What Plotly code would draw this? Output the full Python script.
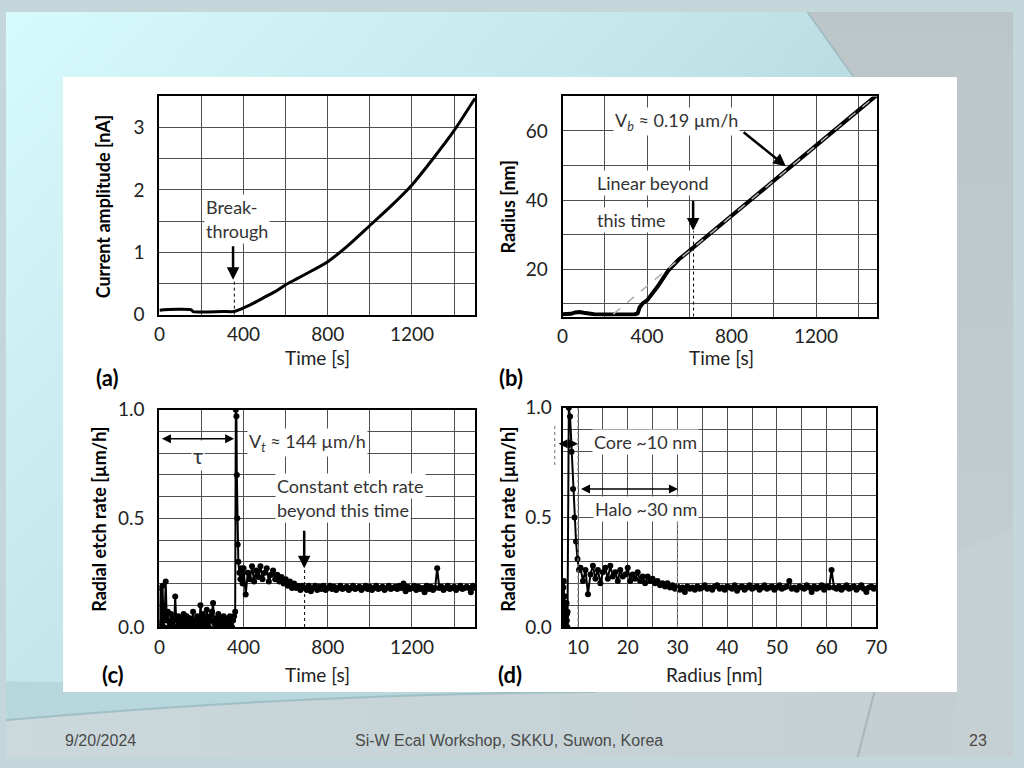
import base64
import plotly.graph_objects as go

# ---------------- data ----------------
a_time = [0, 20, 150, 160, 300, 355, 380, 400, 450, 500, 550, 600, 650, 700,
          800, 900, 1000, 1100, 1200, 1300, 1400, 1500]
a_current = [0.07, 0.08, 0.08, 0.05, 0.05, 0.05, 0.08, 0.11, 0.19, 0.28, 0.37,
             0.48, 0.57, 0.66, 0.85, 1.12, 1.43, 1.74, 2.08, 2.5, 2.95, 3.47]

b_time = [0, 20, 40, 60, 80, 100, 120, 150, 200, 250, 300, 340, 355, 365, 380,
          400, 450, 500, 550, 600, 625, 700, 800, 900, 1000, 1100, 1200, 1300,
          1400, 1490]
b_radius = [7.0, 7.0, 7.1, 7.5, 7.6, 7.4, 7.2, 7.0, 6.9, 6.9, 6.9, 6.9, 7.2,
            9.0, 10.2, 11.0, 15.0, 19.6, 22.8, 25.3, 26.5, 30.4, 35.4, 40.5,
            45.6, 50.7, 55.8, 60.9, 66.0, 70.5]
b_fit_time = [240, 1490]
b_fit_radius = [7.0, 70.5]

c_time = [0, 5, 10, 15, 20, 25, 30, 35, 40, 45, 50, 55, 60, 65, 70, 75, 80, 85,
          90, 95, 100, 105, 110, 115, 120, 125, 130, 135, 140, 145, 150, 155,
          160, 165, 170, 175, 180, 185, 190, 195, 200, 205, 210, 215, 220, 225,
          230, 235, 240, 245, 250, 255, 260, 265, 270, 275, 280, 285, 290, 295,
          300, 305, 310, 315, 320, 325, 330, 335, 340, 345, 350, 355, 360,
          363, 366, 368, 370, 372, 375, 380, 385, 390, 395,
          400, 410, 420, 430, 440, 450, 460, 470, 480, 490,
          500, 510, 520, 530, 540, 550, 560, 570, 580, 590,
          600, 610, 620, 630, 640, 650, 660, 670, 680, 690,
          700, 710, 720, 730, 740, 750, 760, 770, 780, 790,
          800, 810, 820, 830, 840, 850, 860, 870, 880, 890,
          900, 910, 920, 930, 940, 950, 960, 970, 980, 990,
          1000, 1010, 1020, 1030, 1040, 1050, 1060, 1070, 1080, 1090,
          1100, 1110, 1120, 1130, 1140, 1150, 1160, 1170, 1180, 1190,
          1200, 1210, 1220, 1230, 1240, 1250, 1260, 1270, 1280, 1290,
          1300, 1310, 1320, 1330, 1340, 1350, 1360, 1370, 1380, 1390,
          1400, 1410, 1420, 1430, 1440, 1450, 1460, 1470, 1480, 1490, 1500]
c_rate = [0.0, 0.18, 0.02, 0.19, 0.0, 0.05, 0.21, 0.03, 0.07, 0.0,
          0.02, 0.06, 0.01, 0.04, 0.0, 0.14, 0.03, 0.0, 0.05, 0.02,
          0.0, 0.04, 0.01, 0.06, 0.0, 0.03, 0.05, 0.01, 0.0, 0.04,
          0.02, 0.0, 0.07, 0.01, 0.03, 0.0, 0.05, 0.02, 0.0, 0.1,
          0.03, 0.06, 0.01, 0.0, 0.04, 0.08, 0.02, 0.0, 0.05, 0.03,
          0.07, 0.11, 0.02, 0.0, 0.04, 0.01, 0.06, 0.03, 0.0, 0.04,
          0.02, 0.05, 0.01, 0.0, 0.03, 0.04, 0.01, 0.05, 0.02, 0.0,
          0.03, 0.05, 0.07,
          1.0, 0.97, 0.7, 0.5, 0.38, 0.3, 0.25, 0.22, 0.27, 0.2,
          0.27, 0.15, 0.25, 0.22, 0.28, 0.21, 0.26, 0.23, 0.28, 0.22,
          0.25, 0.27, 0.21, 0.24, 0.26, 0.22, 0.24, 0.21, 0.23, 0.20,
          0.22, 0.19, 0.21, 0.18, 0.20, 0.18, 0.19, 0.17, 0.19, 0.18,
          0.17, 0.19, 0.165, 0.18, 0.19, 0.17, 0.185, 0.175, 0.19, 0.17,
          0.18, 0.19, 0.175, 0.185, 0.17, 0.18, 0.19, 0.175, 0.18, 0.185,
          0.17, 0.18, 0.19, 0.175, 0.18, 0.185, 0.17, 0.18, 0.19, 0.175,
          0.185, 0.17, 0.18, 0.19, 0.175, 0.18, 0.185, 0.17, 0.18, 0.19,
          0.175, 0.18, 0.185, 0.175, 0.19, 0.18, 0.20, 0.165, 0.185, 0.175,
          0.18, 0.19, 0.17, 0.185, 0.175, 0.18, 0.16, 0.19, 0.175, 0.185,
          0.17, 0.18, 0.27, 0.18, 0.185, 0.17, 0.18, 0.19, 0.175, 0.18,
          0.185, 0.17, 0.18, 0.19, 0.175, 0.18, 0.185, 0.18, 0.16, 0.19, 0.18]

d_radius = [7.0, 7.05, 7.1, 7.15, 7.2, 7.25, 7.3, 7.35, 7.4, 7.45, 7.5, 7.55,
            7.6, 7.65, 7.7, 7.75, 7.8, 7.85, 7.9,
            8.15, 8.4, 8.7, 9.0, 9.3, 9.6, 9.9, 10.2,
            10.5, 11.0, 11.5, 12.0, 12.5, 13.0, 13.5, 14.0, 14.5, 15.0,
            15.5, 16.0, 16.5, 17.0, 17.5, 18.0, 18.5, 19.0, 19.5, 20.0,
            20.5, 21.0, 21.5, 22.0, 22.5, 23.0, 23.5, 24.0, 24.5, 25.0,
            25.5, 26.0, 26.5, 27.0, 27.5, 28.0, 28.5, 29.0, 29.5, 30.0,
            30.5, 31.0, 31.5, 32.0, 32.5, 33.0, 33.5, 34.0, 34.5, 35.0,
            35.5, 36.0, 36.5, 37.0, 37.5, 38.0, 38.5, 39.0, 39.5, 40.0,
            40.5, 41.0, 41.5, 42.0, 42.5, 43.0, 43.5, 44.0, 44.5, 45.0,
            45.5, 46.0, 46.5, 47.0, 47.5, 48.0, 48.5, 49.0, 49.5, 50.0,
            50.5, 51.0, 51.5, 52.0, 52.5, 53.0, 53.5, 54.0, 54.5, 55.0,
            55.5, 56.0, 56.5, 57.0, 57.5, 58.0, 58.5, 59.0, 59.5, 60.0,
            60.5, 61.0, 61.5, 62.0, 62.5, 63.0, 63.5, 64.0, 64.5, 65.0,
            65.5, 66.0, 66.5, 67.0, 67.5, 68.0, 68.5, 69.0, 69.5, 70.0]
d_rate = [0.0, 0.18, 0.02, 0.21, 0.05, 0.0, 0.14, 0.03, 0.07, 0.0, 0.1, 0.02,
          0.05, 0.0, 0.11, 0.03, 0.06, 0.0, 0.07,
          1.0, 0.96, 0.8, 0.63, 0.5, 0.39, 0.31, 0.26,
          0.27, 0.21, 0.26, 0.15, 0.24, 0.28, 0.22, 0.26, 0.20, 0.25,
          0.27, 0.22, 0.28, 0.23, 0.25, 0.21, 0.26, 0.23, 0.24, 0.27,
          0.21, 0.24, 0.22, 0.25, 0.21, 0.23, 0.20, 0.23, 0.21, 0.22,
          0.20, 0.21, 0.19, 0.20, 0.185, 0.20, 0.18, 0.19, 0.175, 0.185,
          0.17, 0.18, 0.16, 0.185, 0.175, 0.18, 0.17, 0.185, 0.175, 0.18,
          0.19, 0.175, 0.18, 0.17, 0.185, 0.19, 0.175, 0.18, 0.17, 0.185,
          0.18, 0.175, 0.19, 0.165, 0.18, 0.185, 0.17, 0.18, 0.19, 0.175,
          0.18, 0.185, 0.17, 0.18, 0.19, 0.175, 0.18, 0.185, 0.17, 0.18,
          0.19, 0.175, 0.18, 0.185, 0.21, 0.175, 0.18, 0.17, 0.185, 0.18,
          0.175, 0.19, 0.18, 0.16, 0.185, 0.175, 0.18, 0.19, 0.17, 0.185,
          0.18, 0.26, 0.18, 0.175, 0.185, 0.17, 0.18, 0.19, 0.175, 0.18,
          0.185, 0.17, 0.18, 0.19, 0.175, 0.16, 0.18, 0.185, 0.175, 0.18]

time_ticks = [0, 400, 800, 1200]
radius_ticks = [20, 40, 60]
rate_ticks = [0, 0.5, 1.0]
radius_x_ticks = [10, 20, 30, 40, 50, 60, 70]

# ---------------- styling ----------------
W, H = 1024, 768
FONT = "Lato, 'Open Sans', sans-serif"
GRID = "#505050"
TXT = "#333333"


def px(x):
    return x / W


def py(y):
    return 1 - y / H


fig = go.Figure()

fig.add_trace(go.Scatter(x=a_time, y=a_current, mode="lines",
                         line=dict(color="black", width=3, shape="spline", smoothing=0.6),
                         xaxis="x", yaxis="y"))
fig.add_trace(go.Scatter(x=b_time, y=b_radius, mode="lines",
                         line=dict(color="black", width=4), xaxis="x2", yaxis="y2"))
fig.add_trace(go.Scatter(x=b_fit_time, y=b_fit_radius, mode="lines",
                         line=dict(color="#b0b0b0", width=1.5, dash="dash"),
                         xaxis="x2", yaxis="y2"))
fig.add_trace(go.Scatter(x=c_time, y=c_rate, mode="lines+markers",
                         line=dict(color="black", width=2),
                         marker=dict(color="black", size=6), xaxis="x3", yaxis="y3"))
fig.add_trace(go.Scatter(x=d_radius, y=d_rate, mode="lines+markers",
                         line=dict(color="black", width=2),
                         marker=dict(color="black", size=6), xaxis="x4", yaxis="y4"))


def axis(domain, rng, anchor, minor, **kw):
    d = dict(domain=domain, range=rng, anchor=anchor, showgrid=True,
             gridcolor=GRID, gridwidth=1.2, zeroline=False, showline=True,
             mirror=True, linecolor="black", linewidth=2, ticks="",
             tickfont=dict(family=FONT, size=19, color="#222222"),
             minor=dict(showgrid=True, gridcolor=GRID, gridwidth=1.2, **minor),
             fixedrange=True)
    d.update(kw)
    return d


xa = [px(156), px(477)]
xb = [px(566), px(886)]
xd = [px(566), px(885)]
ytop = [py(312), py(87)]
ytopb = [py(314), py(87)]
yc = [py(634), py(410)]
yd = [py(634), py(408)]

fig.update_layout(
    xaxis=axis(xa, [0, 1500], "y", dict(tickmode="linear", tick0=0, dtick=200),
               tickmode="array", tickvals=time_ticks, ticklabelstandoff=2),
    yaxis=axis(ytop, [0, 3.5], "x", dict(tickmode="linear", tick0=0, dtick=0.5),
               tickmode="linear", tick0=0, dtick=1, ticklabelstandoff=9),
    xaxis2=axis(xb, [0, 1490], "y2", dict(tickmode="linear", tick0=0, dtick=200),
                tickmode="array", tickvals=time_ticks, ticklabelstandoff=2),
    yaxis2=axis(ytopb, [6.3, 70], "x2", dict(tickmode="linear", tick0=0, dtick=10),
                tickmode="array", tickvals=radius_ticks, ticklabelstandoff=9),
    xaxis3=axis(xa, [0, 1500], "y3", dict(tickmode="linear", tick0=0, dtick=200),
                tickmode="array", tickvals=time_ticks, ticklabelstandoff=2),
    yaxis3=axis(yc, [0, 1.0], "x3", dict(tickmode="linear", tick0=0, dtick=0.1),
                tickmode="array", tickvals=rate_ticks, tickformat=".1f",
                ticklabelstandoff=9),
    xaxis4=axis(xd, [6.9, 70], "y4", dict(tickmode="linear", tick0=0, dtick=5),
                tickmode="array", tickvals=radius_x_ticks, ticklabelstandoff=2),
    yaxis4=axis(yd, [0, 1.0], "x4", dict(tickmode="linear", tick0=0, dtick=0.1),
                tickmode="array", tickvals=rate_ticks, tickformat=".1f",
                ticklabelstandoff=5),
)

# ---------------- background (slide) ----------------
svg = """<svg xmlns="http://www.w3.org/2000/svg" width="1024" height="768" viewBox="0 0 1024 768">
<defs>
<linearGradient id="sky" x1="0" y1="0" x2="1" y2="0.7">
<stop offset="0" stop-color="#d7fafd"/>
<stop offset="0.45" stop-color="#c4e6ea"/>
<stop offset="0.8" stop-color="#b0d1d7"/>
<stop offset="1" stop-color="#a9c9cf"/>
</linearGradient>
<linearGradient id="grey" x1="0" y1="0" x2="0" y2="1">
<stop offset="0" stop-color="#bcc6c9"/>
<stop offset="1" stop-color="#c5ced1"/>
</linearGradient>
<linearGradient id="foot" x1="0" y1="0" x2="1" y2="0">
<stop offset="0" stop-color="#cbd9dc"/>
<stop offset="1" stop-color="#c4d0d3"/>
</linearGradient>
</defs>
<rect width="1024" height="768" fill="url(#sky)"/>
<path d="M0,690 L600,701 C400,702 200,712 0,730 Z" fill="#b8d7dc"/>
<path d="M815,0 L1024,0 L1024,768 L866,768 L883,701 L967,701 L967,67 L862,67 Z" fill="url(#grey)"/>
<path d="M967,556 L1024,532 L1024,768 L967,768 Z" fill="#c6cfd2"/>
<path d="M0,730 C200,712 400,702 600,701 L883,701 L866,768 L0,768 Z" fill="url(#foot)"/>
<path d="M0,730 C200,712 400,702 600,701" stroke="#9fbec5" stroke-width="2" fill="none"/>
<path d="M815,0 L862,67" stroke="#a2bcc2" stroke-width="2" fill="none"/>
<path d="M883,701 L866,768" stroke="#a6b6ba" stroke-width="2" fill="none"/>
<rect x="58" y="67" width="909" height="634" fill="#ffffff"/>
</svg>"""
src = "data:image/svg+xml;base64," + base64.b64encode(svg.encode()).decode()
fig.add_layout_image(dict(source=src, xref="paper", yref="paper", x=0, y=1,
                          sizex=1, sizey=1, sizing="stretch", xanchor="left",
                          yanchor="top", layer="below"))

# ---------------- shapes ----------------
shapes = [
    dict(type="line", xref="x", yref="y", x0=356, x1=356, y0=0, y1=0.55,
         line=dict(color="black", width=1, dash="dot")),
    dict(type="line", xref="x2", yref="y2", x0=620, x1=620, y0=6.3, y1=31,
         line=dict(color="black", width=1, dash="dot")),
    dict(type="line", xref="x3", yref="y3", x0=690, x1=690, y0=0, y1=0.27,
         line=dict(color="black", width=1, dash="dot")),
    dict(type="line", xref="x4", yref="y4", x0=10, x1=10, y0=0, y1=1,
         line=dict(color="#888888", width=1.2, dash="dot")),
    dict(type="line", xref="x4", yref="y4", x0=30, x1=30, y0=0, y1=0.63,
         line=dict(color="#888888", width=1.2, dash="dot")),
    dict(type="line", xref="paper", yref="paper", x0=px(558), x1=px(558),
         y0=py(467), y1=py(426), line=dict(color="#888888", width=1.2, dash="dot")),
]
fig.update_layout(shapes=shapes)

# ---------------- annotations ----------------
ann = []


def ptxt(text, x, y, size=18, bold=False, angle=0, color="black", xanchor="center"):
    t = "<b>%s</b>" % text if bold else text
    ann.append(dict(text=t, xref="paper", yref="paper", x=px(x), y=py(y),
                    xanchor=xanchor, yanchor="middle", showarrow=False,
                    textangle=angle, font=dict(family=FONT, size=size, color=color)))


ptxt("Current amplitude [nA]", 99, 200, bold=True, angle=-90)
ptxt("Time [s]", 317, 356, size=19, color="#222222")
ptxt("(a)", 103, 377, size=22, bold=True)
ptxt("Radius [nm]", 510, 201, bold=True, angle=-90)
ptxt("Time [s]", 728, 356, size=19, color="#222222")
ptxt("(b)", 514, 377, size=22, bold=True)
ptxt("Radial etch rate [µm/h]", 95, 523, bold=True, angle=-90)
ptxt("Time [s]", 317, 683, size=19, color="#222222")
ptxt("(c)", 109, 683, size=22, bold=True)
ptxt("Radial etch rate [µm/h]", 511, 523, bold=True, angle=-90)
ptxt("Radius [nm]", 720, 683, size=19, color="#222222")
ptxt("(d)", 513, 683, size=22, bold=True)

FOOT = "'Liberation Sans Narrow', 'Arial Narrow', 'Liberation Sans', sans-serif"
for text, x, anchor in [("9/20/2024", 58, "left"),
                        ("Si-W Ecal Workshop, SKKU, Suwon, Korea", 511, "center"),
                        ("23", 1000, "right")]:
    ann.append(dict(text=text, xref="paper", yref="paper", x=px(x), y=py(751),
                    xanchor=anchor, yanchor="middle", showarrow=False,
                    font=dict(family=FOOT, size=16, color="#4a4a4a")))


def dtxt(text, xr, yr, x, y, xanchor="left", bg="white", size=18):
    ann.append(dict(text=text, xref=xr, yref=yr, x=x, y=y, xanchor=xanchor,
                    yanchor="middle", showarrow=False, bgcolor=bg, borderpad=1,
                    font=dict(family=FONT, size=size, color=TXT)))


def arrow(xr, yr, x, y, ax, ay, width=2.5, both=False, size=1.0):
    d = dict(text="", xref=xr, yref=yr, axref=xr, ayref=yr, x=x, y=y, ax=ax, ay=ay,
             showarrow=True, arrowhead=2, arrowsize=size, arrowwidth=width,
             arrowcolor="black")
    if both:
        d.update(arrowside="end+start", startarrowhead=2, startarrowsize=size)
    ann.append(d)


dtxt("Break-", "x", "y", 214, 1.72)
dtxt("through", "x", "y", 214, 1.34)
arrow("x", "y", 350, 0.56, 350, 1.12)
dtxt("V<sub><i>b</i></sub> ≈ 0.19 µm/h", "x2", "y2", 238, 62.8)
arrow("x2", "y2", 1057, 49.8, 850, 60.0)
dtxt("Linear beyond", "x2", "y2", 155, 44.9)
dtxt("this time", "x2", "y2", 155, 34.2)
arrow("x2", "y2", 618, 31.2, 618, 40.2)
arrow("x3", "y3", 355, 0.866, 5, 0.866, width=1.5, both=True, size=1.2)
dtxt("τ", "x3", "y3", 183, 0.79, xanchor="center", size=22)
dtxt("V<sub><i>t</i></sub> ≈ 144 µm/h", "x3", "y3", 415, 0.851)
dtxt("Constant etch rate", "x3", "y3", 549, 0.647)
dtxt("beyond this time", "x3", "y3", 549, 0.539)
arrow("x3", "y3", 688, 0.27, 688, 0.45)
arrow("x4", "y4", 10.0, 0.836, 5.8, 0.836, width=1.5, both=True, size=1.2)
dtxt("Core ~10 nm", "x4", "y4", 23.5, 0.846, xanchor="center")
arrow("x4", "y4", 30.1, 0.63, 10.3, 0.63, width=1.5, both=True, size=1.2)
dtxt("Halo ~30 nm", "x4", "y4", 23.6, 0.54, xanchor="center")

fig.update_layout(
    annotations=ann,
    width=W, height=H, margin=dict(l=0, r=0, t=0, b=0, pad=0),
    paper_bgcolor="#c3d6da", plot_bgcolor="white", showlegend=False,
    font=dict(family=FONT, color=TXT),
)

BODY_CSS = ("data:text/javascript,document.body.style.margin='0';"
            "document.body.style.overflow='hidden';//.js")
fig.write_html("out.html", config={"displayModeBar": False},
               include_mathjax=BODY_CSS,
               post_script="document.body.style.margin='0';document.body.style.overflow='hidden';")
